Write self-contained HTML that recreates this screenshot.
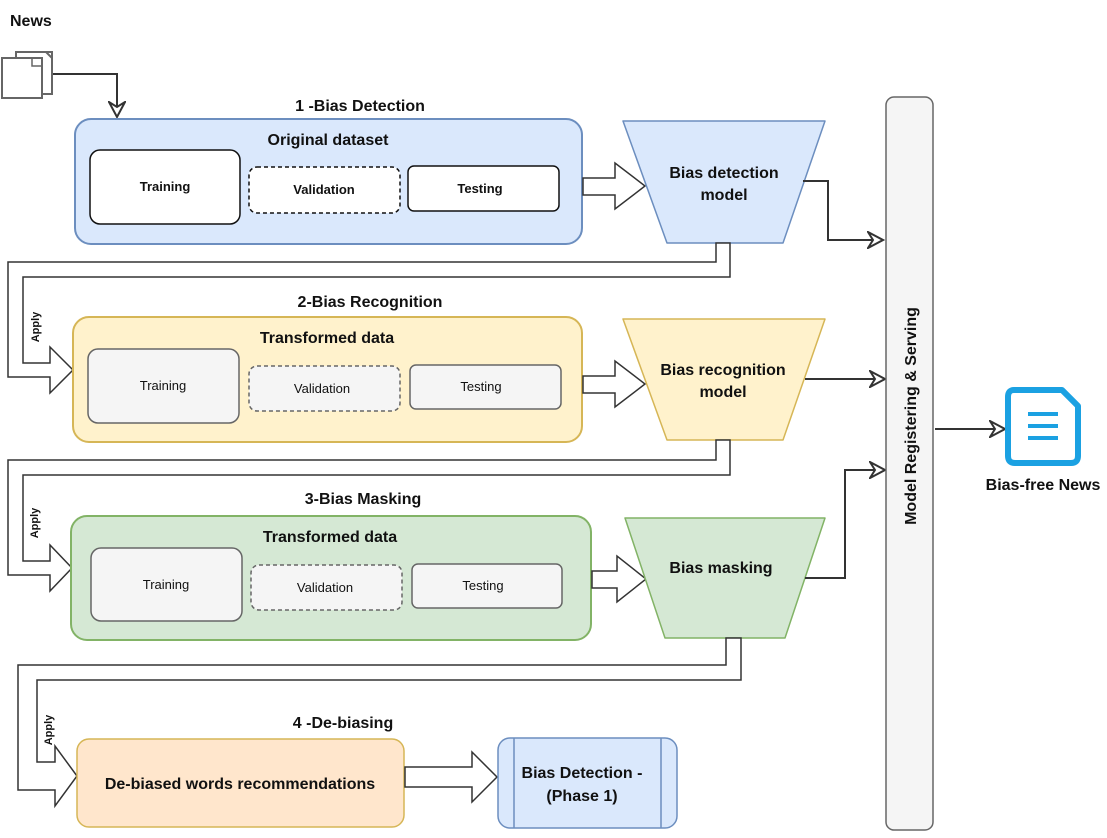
<!DOCTYPE html>
<html><head><meta charset="utf-8"><style>
html,body{margin:0;padding:0;background:#fff;}
svg{display:block;font-family:"Liberation Sans",Arial,sans-serif;}
.t{font-weight:bold;fill:#111;text-anchor:middle;}
</style></head><body>
<svg width="1107" height="838" viewBox="0 0 1107 838" xmlns="http://www.w3.org/2000/svg">
<defs>
<marker id="ah" markerWidth="18" markerHeight="18" refX="15" refY="9" orient="auto" markerUnits="userSpaceOnUse">
<path d="M1,1 L16,9 L1,17 L6,9 Z" fill="#fff" stroke="#333" stroke-width="2"/>
</marker>
</defs>

<!-- News -->
<text x="10" y="26" class="t" style="text-anchor:start;font-size:16px">News</text>
<rect x="16" y="52" width="36" height="42" fill="#fff" stroke="#666" stroke-width="2"/>
<path d="M16,52 h30 l6,6" fill="none" stroke="#666" stroke-width="2"/>
<rect x="2" y="58" width="40" height="40" fill="#fff" stroke="#666" stroke-width="2"/>
<path d="M32,58 v8 h10" fill="none" stroke="#666" stroke-width="1.5"/>
<path d="M53,74 H117 V116" fill="none" stroke="#333" stroke-width="2" marker-end="url(#ah)"/>

<!-- Section 1 -->
<text x="360" y="111" class="t" style="font-size:16px">1 -Bias Detection</text>
<rect x="75" y="119" width="507" height="125" rx="16" fill="#dae8fc" stroke="#6c8ebf" stroke-width="2"/>
<text x="328" y="145" class="t" style="font-size:16px">Original dataset</text>
<rect x="90" y="150" width="150" height="74" rx="10" fill="#fff" stroke="#111" stroke-width="1.5"/>
<text x="165" y="191" class="t" style="font-size:13px">Training</text>
<rect x="249" y="167" width="151" height="46" rx="8" fill="#fff" stroke="#111" stroke-width="1.5" stroke-dasharray="4,3"/>
<text x="324" y="194" class="t" style="font-size:13px">Validation</text>
<rect x="408" y="166" width="151" height="45" rx="6" fill="#fff" stroke="#111" stroke-width="1.5"/>
<text x="480" y="193" class="t" style="font-size:13px">Testing</text>
<polygon points="583,178 615,178 615,163 645,186 615,209 615,195 583,195" fill="#fff" stroke="#333" stroke-width="1.5"/>
<polygon points="623,121 825,121 783,243 667,243" fill="#dae8fc" stroke="#6c8ebf" stroke-width="1.5" stroke-linejoin="round"/>
<text x="724" y="178" class="t" style="font-size:16px">Bias detection</text>
<text x="724" y="200" class="t" style="font-size:16px">model</text>
<path d="M803,181 H828 V240 H882" fill="none" stroke="#333" stroke-width="2" marker-end="url(#ah)"/>
<polygon points="716,243 716,262 8,262 8,377 50,377 50,393 73,370 50,347 50,363 23,363 23,277 730,277 730,243" fill="#fff" stroke="#333" stroke-width="1.5"/>
<text transform="translate(39,327) rotate(-90)" class="t" style="font-size:11px">Apply</text>

<!-- Section 2 -->
<text x="370" y="307" class="t" style="font-size:16px">2-Bias Recognition</text>
<rect x="73" y="317" width="509" height="125" rx="16" fill="#fff2cc" stroke="#d6b656" stroke-width="2"/>
<text x="327" y="343" class="t" style="font-size:16px">Transformed data</text>
<rect x="88" y="349" width="151" height="74" rx="10" fill="#f5f5f5" stroke="#666" stroke-width="1.5"/>
<text x="163" y="390" class="t" style="font-size:13px;font-weight:normal">Training</text>
<rect x="249" y="366" width="151" height="45" rx="8" fill="#f5f5f5" stroke="#666" stroke-width="1.5" stroke-dasharray="4,3"/>
<text x="322" y="393" class="t" style="font-size:13px;font-weight:normal">Validation</text>
<rect x="410" y="365" width="151" height="44" rx="6" fill="#f5f5f5" stroke="#666" stroke-width="1.5"/>
<text x="481" y="391" class="t" style="font-size:13px;font-weight:normal">Testing</text>
<polygon points="583,376 615,376 615,361 645,384 615,407 615,393 583,393" fill="#fff" stroke="#333" stroke-width="1.5"/>
<polygon points="623,319 825,319 783,440 667,440" fill="#fff2cc" stroke="#d6b656" stroke-width="1.5" stroke-linejoin="round"/>
<text x="723" y="375" class="t" style="font-size:16px">Bias recognition</text>
<text x="723" y="397" class="t" style="font-size:16px">model</text>
<path d="M805,379 H884" fill="none" stroke="#333" stroke-width="2" marker-end="url(#ah)"/>
<polygon points="716,440 716,460 8,460 8,575 50,575 50,591 72,568 50,545 50,561 23,561 23,475 730,475 730,440" fill="#fff" stroke="#333" stroke-width="1.5"/>
<text transform="translate(38,523) rotate(-90)" class="t" style="font-size:11px">Apply</text>

<!-- Section 3 -->
<text x="363" y="504" class="t" style="font-size:16px">3-Bias Masking</text>
<rect x="71" y="516" width="520" height="124" rx="16" fill="#d5e8d4" stroke="#82b366" stroke-width="2"/>
<text x="330" y="542" class="t" style="font-size:16px">Transformed data</text>
<rect x="91" y="548" width="151" height="73" rx="10" fill="#f5f5f5" stroke="#666" stroke-width="1.5"/>
<text x="166" y="589" class="t" style="font-size:13px;font-weight:normal">Training</text>
<rect x="251" y="565" width="151" height="45" rx="8" fill="#f5f5f5" stroke="#666" stroke-width="1.5" stroke-dasharray="4,3"/>
<text x="325" y="592" class="t" style="font-size:13px;font-weight:normal">Validation</text>
<rect x="412" y="564" width="150" height="44" rx="6" fill="#f5f5f5" stroke="#666" stroke-width="1.5"/>
<text x="483" y="590" class="t" style="font-size:13px;font-weight:normal">Testing</text>
<polygon points="592,571 617,571 617,556 646,579 617,602 617,588 592,588" fill="#fff" stroke="#333" stroke-width="1.5"/>
<polygon points="625,518 825,518 785,638 665,638" fill="#d5e8d4" stroke="#82b366" stroke-width="1.5" stroke-linejoin="round"/>
<text x="721" y="573" class="t" style="font-size:16px">Bias masking</text>
<path d="M805,578 H845 V470 H884" fill="none" stroke="#333" stroke-width="2" marker-end="url(#ah)"/>
<polygon points="726,638 726,665 18,665 18,790 55,790 55,806 77,776 55,746 55,762 37,762 37,680 741,680 741,638" fill="#fff" stroke="#333" stroke-width="1.5"/>
<text transform="translate(52,730) rotate(-90)" class="t" style="font-size:11px">Apply</text>

<!-- Section 4 -->
<text x="343" y="728" class="t" style="font-size:16px">4 -De-biasing</text>
<rect x="77" y="739" width="327" height="88" rx="12" fill="#ffe6cc" stroke="#d6b656" stroke-width="1.5"/>
<text x="240" y="789" class="t" style="font-size:16px">De-biased words recommendations</text>
<polygon points="405,767 472,767 472,752 497,777 472,802 472,787 405,787" fill="#fff" stroke="#333" stroke-width="1.5"/>
<rect x="498" y="738" width="179" height="90" rx="12" fill="#dae8fc" stroke="#6c8ebf" stroke-width="1.5"/>
<line x1="514" y1="738" x2="514" y2="828" stroke="#6c8ebf" stroke-width="1.5"/>
<line x1="661" y1="738" x2="661" y2="828" stroke="#6c8ebf" stroke-width="1.5"/>
<text x="582" y="778" class="t" style="font-size:16px">Bias Detection -</text>
<text x="582" y="801" class="t" style="font-size:16px">(Phase 1)</text>

<!-- Model bar -->
<rect x="886" y="97" width="47" height="733" rx="8" fill="#f5f5f5" stroke="#666" stroke-width="1.5"/>
<text transform="translate(916,416) rotate(-90)" class="t" style="font-size:16px">Model Registering &amp; Serving</text>
<path d="M935,429 H1004" fill="none" stroke="#333" stroke-width="2" marker-end="url(#ah)"/>

<!-- Doc icon -->
<path d="M1014,390 H1062 L1078,406 V456 Q1078,463 1071,463 H1015 Q1008,463 1008,456 V397 Q1008,390 1014,390 Z" fill="#fff" stroke="#1ba1e2" stroke-width="6" stroke-linejoin="round"/>
<line x1="1028" y1="414" x2="1058" y2="414" stroke="#1ba1e2" stroke-width="4"/>
<line x1="1028" y1="426" x2="1058" y2="426" stroke="#1ba1e2" stroke-width="4"/>
<line x1="1028" y1="438" x2="1058" y2="438" stroke="#1ba1e2" stroke-width="4"/>
<text x="1043" y="490" class="t" style="font-size:16px">Bias-free News</text>
</svg>
</body></html>
